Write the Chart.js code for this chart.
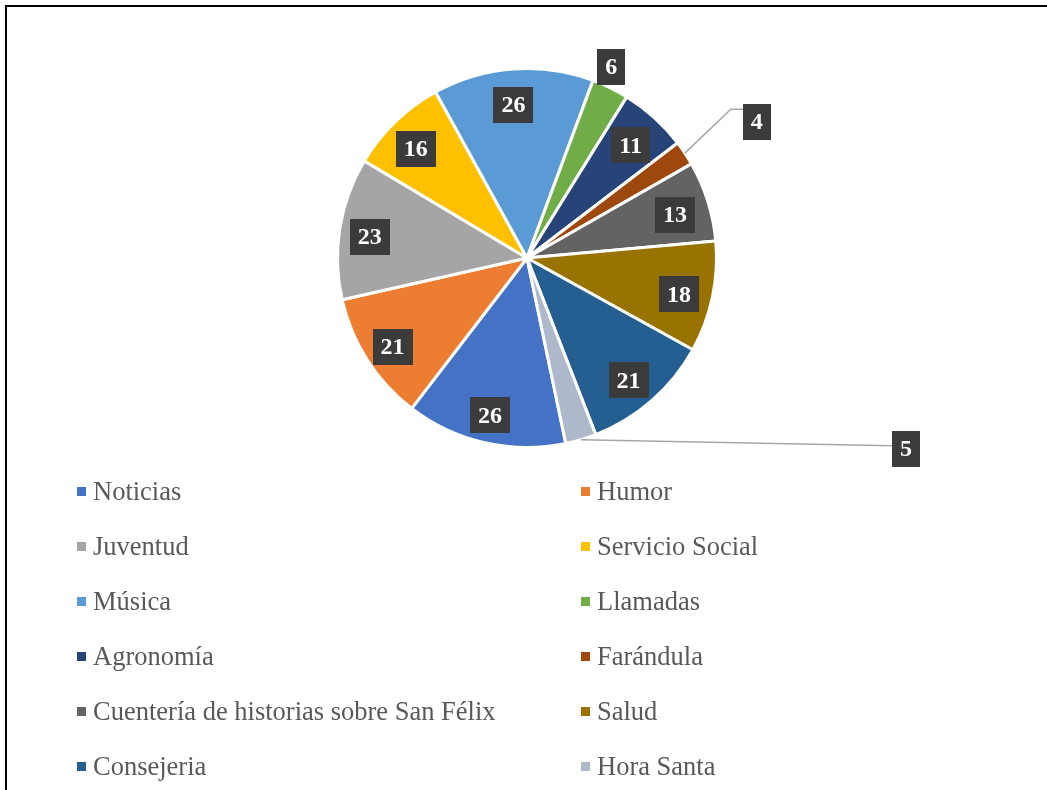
<!DOCTYPE html>
<html lang="es">
<head>
<meta charset="utf-8">
<title>Programas</title>
<script src="https://cdn.jsdelivr.net/npm/chart.js@4.4.1/dist/chart.umd.min.js"></script>
<style>
  html, body { margin: 0; padding: 0; background: #fff; overflow: hidden; }
  #wrap { position: relative; width: 1047px; height: 790px; }
  #frame { position: absolute; left: 5px; top: 5px; width: 1100px; height: 850px;
           border-left: 2px solid #000; border-top: 2px solid #000; }
  #chart { position: absolute; left: 0; top: 0; }
  .precarga { position: absolute; left: -9999px; top: 0; font-family: "Liberation Serif"; }
</style>
</head>
<body>
<div id="wrap">
  <div id="frame"></div>
  <canvas id="chart" width="1047" height="790"></canvas>
</div>
<!-- fuerza la carga de la fuente antes de dibujar el canvas -->
<span class="precarga" style="font-size:26px">Noticias 0123456789</span>
<span class="precarga" style="font-size:24px;font-weight:bold">0123456789</span>
<script>
// ===== datos del gráfico =====
const categorias = [
  'Noticias', 'Humor', 'Juventud', 'Servicio Social', 'Música', 'Llamadas',
  'Agronomía', 'Farándula', 'Cuentería de historias sobre San Félix', 'Salud',
  'Consejeria', 'Hora Santa'
];
const valores = [26, 21, 23, 16, 26, 6, 11, 4, 13, 18, 21, 5];

// colores de cada porción (paleta Office)
const colores = [
  '#4472C4', '#ED7D31', '#A5A5A5', '#FFC000', '#5B9BD5', '#70AD47',
  '#264478', '#9E480E', '#636363', '#997300', '#255E91', '#ADB9CA'
];

// etiquetas fuera del pastel: desplazamiento desde el borde del arco
const etiquetasFuera = {
  'Llamadas'  : { dx: 1,   dy: -21 },
  'Farándula' : { dx: 72,  dy: -31, linea: [[46, -44]] },
  'Hora Santa': { dx: 325, dy: 9,   linea: [] }
};

const SERIF = '"Liberation Serif", "Times New Roman", serif';

// -----------------------------------------------
// etiquetas de valor en cajas oscuras
// -----------------------------------------------
const etiquetasPlugin = {
  id: 'etiquetas',
  afterDatasetsDraw(chart) {
    const ctx  = chart.ctx;
    const arcs = chart.getDatasetMeta(0).data;
    ctx.save();
    ctx.font = 'bold 24px ' + SERIF;
    ctx.textAlign = 'center';
    ctx.textBaseline = 'middle';

    arcs.forEach(function(arc, i) {
      const p   = arc.getProps(['x', 'y', 'startAngle', 'endAngle', 'outerRadius'], true);
      const mid = (p.startAngle + p.endAngle) / 2;
      const txt = String(valores[i]);
      const w   = ctx.measureText(txt).width + 16;
      const h   = 36;
      const fuera = etiquetasFuera[categorias[i]];
      let cx, cy;

      if (fuera) {
        const ex = p.x + Math.cos(mid) * p.outerRadius;
        const ey = p.y + Math.sin(mid) * p.outerRadius;
        cx = ex + fuera.dx;
        cy = ey + fuera.dy;
        if (fuera.linea) {
          ctx.strokeStyle = '#A6A6A6';
          ctx.lineWidth = 1.5;
          ctx.beginPath();
          ctx.moveTo(ex, ey);
          let lastY = cy - 3;
          fuera.linea.forEach(function(pt) {
            ctx.lineTo(ex + pt[0], ey + pt[1]);
            lastY = ey + pt[1];
          });
          ctx.lineTo(cx - w / 2, lastY);
          ctx.stroke();
        }
      } else {
        // dentro de la porción, un poco hacia el borde
        const r = p.outerRadius * 0.83;
        cx = p.x + Math.cos(mid) * r - 2;
        cy = p.y + Math.sin(mid) * r + 4;
      }

      ctx.fillStyle = '#3B3B3B';
      ctx.fillRect(Math.round(cx - w / 2), Math.round(cy - h / 2), Math.round(w), h);
      ctx.fillStyle = '#FFFFFF';
      ctx.fillText(txt, cx, cy + 1);
    });
    ctx.restore();
  }
};

// -----------------------------------------------
// leyenda en dos columnas
// -----------------------------------------------
const leyendaPlugin = {
  id: 'leyenda2col',
  afterDraw(chart) {
    const ctx = chart.ctx;
    const colX = [77, 581];
    ctx.save();
    ctx.font = '26.5px ' + SERIF;
    ctx.textAlign = 'left';
    ctx.textBaseline = 'middle';
    categorias.forEach(function(nombre, i) {
      const x = colX[i % 2];
      const y = 492 + Math.floor(i / 2) * 55;
      ctx.fillStyle = colores[i];
      ctx.fillRect(x, y - 5, 9, 9);
      ctx.fillStyle = '#595959';
      ctx.fillText(nombre, x + 16, y + 1);
    });
    ctx.restore();
  }
};

function dibujar() {
  new Chart(document.getElementById('chart').getContext('2d'), {
    type: 'pie',
    data: {
      labels: categorias,
      datasets: [{
        data           : valores,
        backgroundColor: colores,
        borderColor    : '#FFFFFF',
        borderWidth    : 3
      }]
    },
    options: {
      responsive: false,
      animation : false,
      rotation  : 168.2,
      layout    : { padding: { left: 7, right: 0, top: 67, bottom: 341 } },
      plugins   : {
        legend : { display: false },
        tooltip: { enabled: false }
      }
    },
    plugins: [etiquetasPlugin, leyendaPlugin]
  });
}

Promise.all([
  document.fonts.load('26px "Liberation Serif"'),
  document.fonts.load('bold 24px "Liberation Serif"')
]).then(dibujar, dibujar);
</script>
</body>
</html>
